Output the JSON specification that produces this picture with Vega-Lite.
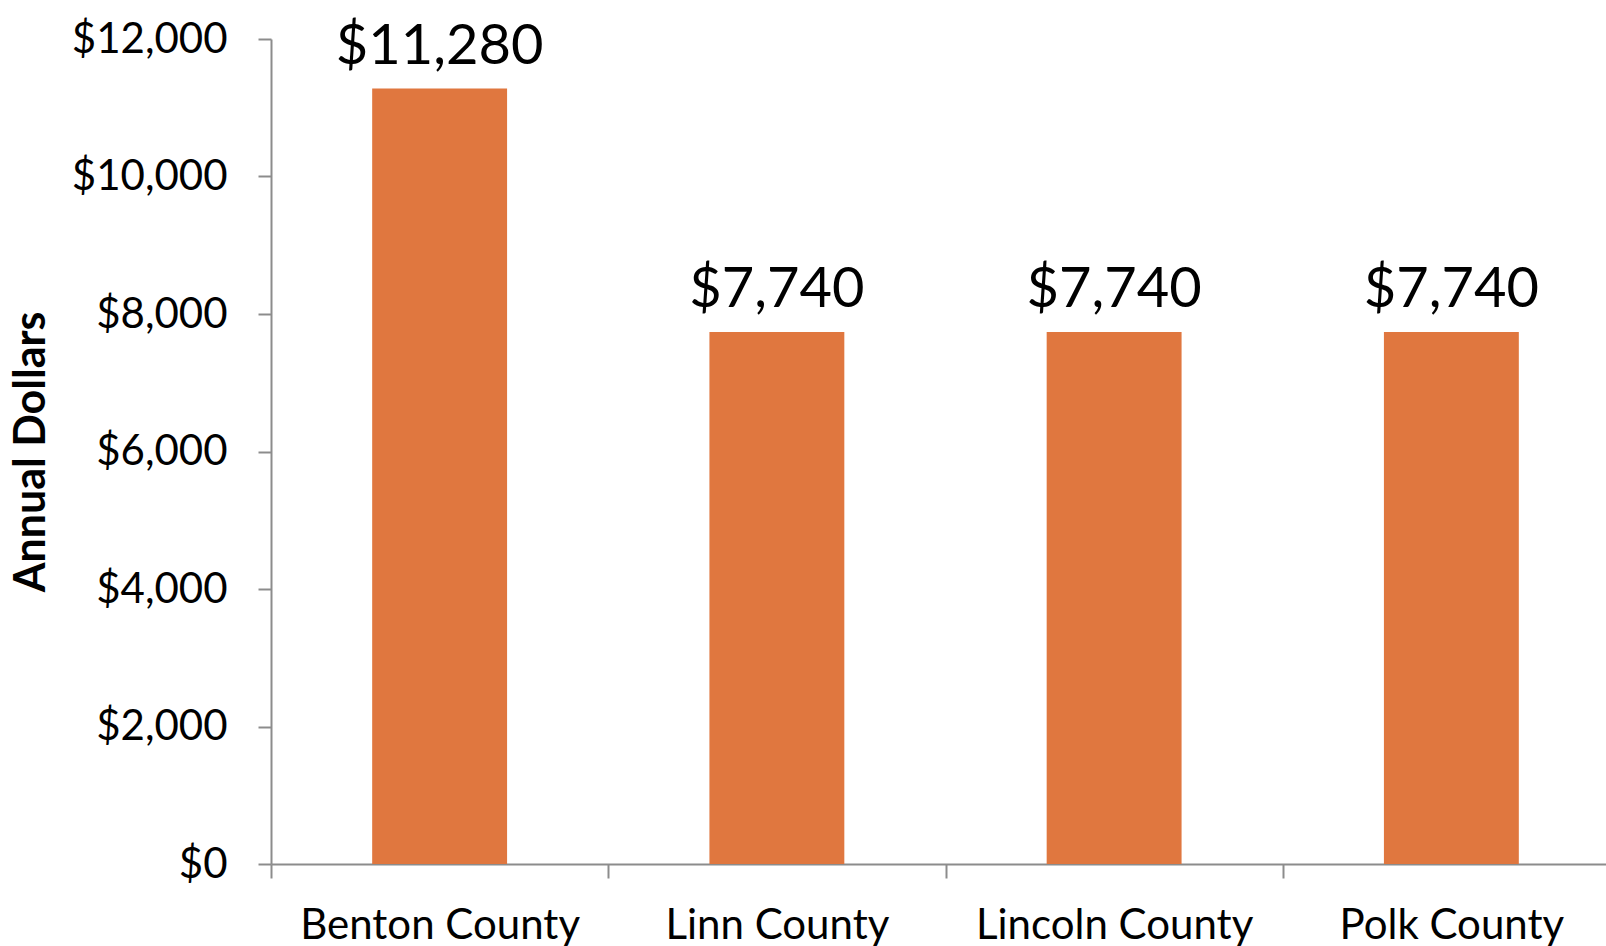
{
  "$schema": "https://vega.github.io/schema/vega-lite/v6.json",
  "autosize": {"type": "none"},
  "padding": {"left": 271, "top": 39, "right": 0, "bottom": 82},
  "width": 1335,
  "height": 825,
  "background": "white",
  "config": {
    "view": {"stroke": null},
    "font": "Lato"
  },
  "data": {
    "values": [
      {"county": "Benton County", "dollars": 11280},
      {"county": "Linn County", "dollars": 7740},
      {"county": "Lincoln County", "dollars": 7740},
      {"county": "Polk County", "dollars": 7740}
    ]
  },
  "encoding": {
    "x": {
      "field": "county",
      "type": "nominal",
      "sort": null,
      "scale": {"paddingInner": 0, "paddingOuter": 0, "range": [0, 1349]},
      "axis": {
        "title": null,
        "labelAngle": 0,
        "labelFont": "Lato",
        "labelFontSize": 42,
        "labelColor": "#000000",
        "labelPadding": 27,
        "labelBaseline": "top",
        "labelLimit": 0,
        "tickBand": "extent",
        "tickSize": 14,
        "tickWidth": 2,
        "tickColor": "#8c8c8c",
        "domainColor": "#8c8c8c",
        "domainWidth": 2
      }
    },
    "y": {
      "field": "dollars",
      "type": "quantitative",
      "scale": {"domain": [0, 12000], "nice": false},
      "axis": {
        "title": "Annual Dollars",
        "titleFont": "Lato",
        "titleFontSize": 43,
        "titleFontWeight": "bold",
        "titleColor": "#000000",
        "titlePadding": 18,
        "values": [0, 2000, 4000, 6000, 8000, 10000, 12000],
        "format": "$,.0f",
        "labelFont": "Lato",
        "labelFontSize": 42,
        "labelColor": "#000000",
        "labelPadding": 31,
        "tickSize": 13,
        "tickWidth": 2,
        "tickColor": "#8c8c8c",
        "domainColor": "#8c8c8c",
        "domainWidth": 2,
        "grid": false
      }
    }
  },
  "layer": [
    {
      "mark": {"type": "bar", "color": "#E0773F", "width": {"band": 0.4}}
    },
    {
      "mark": {"type": "text", "baseline": "alphabetic", "dy": -25, "fontSize": 56, "font": "Lato", "color": "#000000"},
      "encoding": {
        "text": {"field": "dollars", "type": "quantitative", "format": "$,.0f"}
      }
    }
  ]
}
